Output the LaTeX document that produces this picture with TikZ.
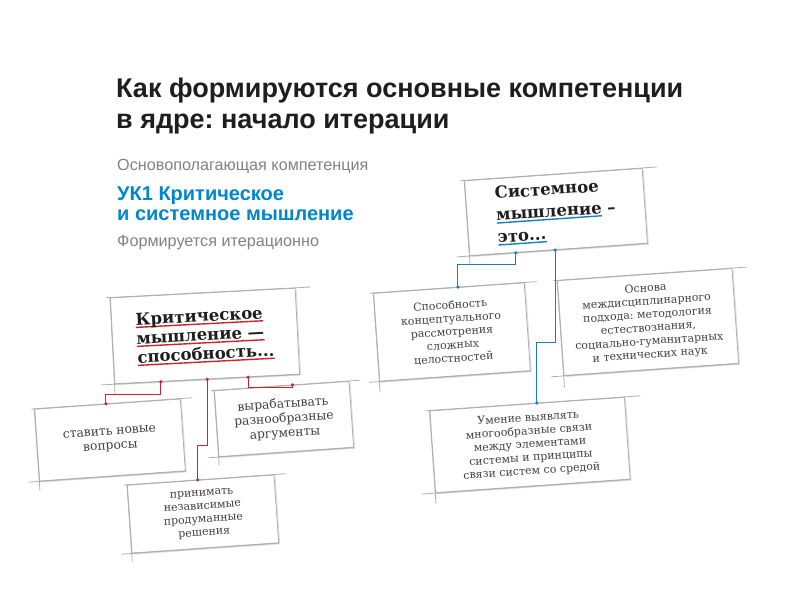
\documentclass[tikz,border=0pt]{standalone}
\usepackage{fontspec}
\setmainfont{DejaVu Serif}
\newfontfamily\hsans{Liberation Sans}
\usetikzlibrary{calc,shadows}
\definecolor{ukblue}{RGB}{0,134,204}
\definecolor{redline}{RGB}{205,35,45}
\definecolor{sysblue}{RGB}{20,130,185}
\definecolor{boxgray}{RGB}{175,175,175}
\definecolor{subgray}{RGB}{130,130,130}
\definecolor{txtgray}{RGB}{65,65,65}
\definecolor{headtxt}{RGB}{30,30,30}
\newcommand\ulcol[2]{\setbox0\hbox{#2}\rlap{\color{#1}\rule[-3pt]{\wd0}{1.4pt}}\box0\relax}
\frenchspacing
\tikzset{
  sbox/.style={draw=boxgray, line width=0.8pt, fill=white, rotate=#1, align=center,
    inner sep=3pt, text=txtgray,
    drop shadow={shadow xshift=1.5pt, shadow yshift=-1.5pt, opacity=0.12, fill=black},
    font=\fontsize{11}{13.3}\selectfont},
  sbox/.default=3.5,
  bigtxt/.style={font=\fontsize{12.3}{14.5}\selectfont},
  headbox/.style={sbox=#1, align=left, text=headtxt},
  extline/.style={draw=boxgray, line width=0.8pt},
  rcon/.style={draw=redline, line width=1pt},
  bcon/.style={draw=sysblue, line width=1pt},
  rdot/.style={circle, fill=redline, inner sep=0pt, minimum size=3.5pt},
  bdot/.style={circle, fill=sysblue, inner sep=0pt, minimum size=3.5pt},
  ttl/.style={anchor=base west, inner sep=0pt, text=headtxt, font=\hsans\bfseries\fontsize{27}{30}\selectfont},
  subt/.style={anchor=base west, inner sep=0pt, text=subgray, font=\hsans\fontsize{16.2}{18}\selectfont},
  ukt/.style={anchor=base west, inner sep=0pt, text=ukblue, font=\hsans\bfseries\fontsize{20}{22}\selectfont},
}
\newcommand\boxext[1]{%
  \draw[extline] ($(#1.north west)!-0.02!(#1.north east)$) -- ($(#1.north west)!1.08!(#1.north east)$);
  \draw[extline] ($(#1.south east)!1.07!(#1.south west)$) -- ($(#1.south west)!1.0!(#1.south east)$);
  \draw[extline] (#1.north west) -- ($(#1.north west)!1.12!(#1.south west)$);
}
\begin{document}
\begin{tikzpicture}[x=1pt,y=-1pt]
\useasboundingbox (0,0) rectangle (800,600);
\fill[white] (0,0) rectangle (800,600);

% titles
\node[ttl] (t1) at (116,97) {Как формируются основные компетенции};
\node[ttl] (t2) at (116,128) {в ядре: начало итерации};
\node[subt] (s1) at (117,170) {Основополагающая компетенция};
\node[ukt] (s2) at (117,200) {УК1 Критическое};
\node[ukt] (s3) at (117,220) {и системное мышление};
\node[subt] (s4) at (117,246) {Формируется итерационно};

% left group
\node[headbox=3, minimum width=185pt, minimum height=86pt, font=\bfseries\fontsize{16.5}{19}\selectfont] (crit) at (205,336)
  {\ulcol{redline}{Критическое}\\\ulcol{redline}{мышление —}\\\ulcol{redline}{способность...}};
\node[sbox=4, bigtxt, minimum width=146pt, minimum height=72pt] (new) at (110,440) {ставить новые\\вопросы};
\node[sbox=4, bigtxt, minimum width=135pt, minimum height=66pt] (arg) at (284,419) {вырабатывать\\разнообразные\\аргументы};
\node[sbox=4, minimum width=147pt, minimum height=68pt] (dec) at (203,514) {принимать\\независимые\\продуманные\\решения};

% right group
\node[headbox=4, minimum width=178pt, minimum height=75pt, font=\bfseries\fontsize{16.5}{22}\selectfont] (sys) at (556,212)
  {Системное\\\ulcol{sysblue}{мышление} –\\\ulcol{sysblue}{это...}};
\node[sbox=4, minimum width=151pt, minimum height=88pt] (conc) at (452,332) {Способность\\концептуального\\рассмотрения\\сложных\\целостностей};
\node[sbox=4, minimum width=175pt, minimum height=95pt] (basis) at (648,322) {Основа\\междисциплинарного\\подхода: методология\\естествознания,\\социально-гуманитарных\\и технических наук};
\node[sbox=4, minimum width=195pt, minimum height=82pt] (skill) at (530,445) {Умение выявлять\\многообразные связи\\между элементами\\системы и принципы\\связи систем со средой};

\foreach \b in {crit,new,arg,dec,sys,conc,basis,skill}{\boxext{\b}}

% red connectors
\coordinate (r1s) at ($(crit.south west)!0.25!(crit.south east)$);
\coordinate (r1e) at ($(new.north west)!0.49!(new.north east)$);
\coordinate (r2s) at ($(crit.south west)!0.5!(crit.south east)$);
\coordinate (r2e) at ($(dec.north west)!0.48!(dec.north east)$);
\coordinate (r3s) at ($(crit.south west)!0.72!(crit.south east)$);
\coordinate (r3e) at ($(arg.north west)!0.58!(arg.north east)$);
\draw[rcon] (r1s) -- ++(0,13) -| (r1e);
\draw[rcon] (r2s) |- ($(r2s)+(-5,66)$) -| (r2e);
\draw[rcon] (r3s) -- ++(0,10) -| (r3e);
\foreach \p in {r1s,r1e,r2s,r2e,r3s,r3e}{\node[rdot] at (\p) {};}

% blue connectors
\coordinate (b1s) at ($(sys.south west)!0.26!(sys.south east)$);
\coordinate (b1e) at ($(conc.north west)!0.56!(conc.north east)$);
\coordinate (b2s) at ($(sys.south west)!0.48!(sys.south east)$);
\coordinate (b2e) at ($(skill.north west)!0.55!(skill.north east)$);
\draw[bcon] (b1s) -- ++(0,12) -| (b1e);
\draw[bcon] (b2s) |- ($(b2s)+(-14,92)$) -| (b2e);
\foreach \p in {b1s,b1e,b2s,b2e}{\node[bdot] at (\p) {};}
\end{tikzpicture}
\end{document}
